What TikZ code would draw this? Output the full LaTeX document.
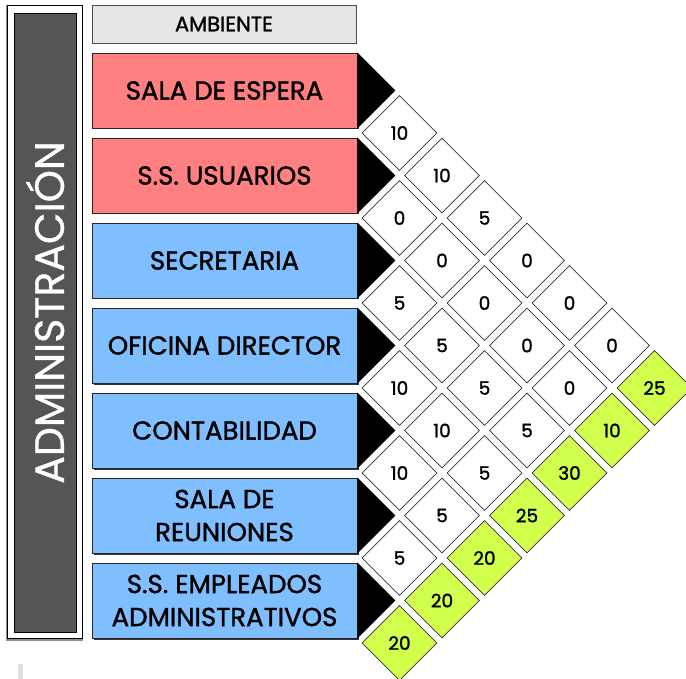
\documentclass[tikz,border=0pt]{standalone}
\usepackage{fontspec}
\setmainfont{Poppins}[FakeBold=1.4]
\newfontfamily\bigfont{Poppins}[FakeBold=0.8]
\usetikzlibrary{shapes.geometric}
\definecolor{pinkbox}{RGB}{255,128,128}
\definecolor{bluebox}{RGB}{128,191,255}
\definecolor{greencell}{RGB}{210,255,77}
\definecolor{darkbar}{RGB}{85,85,85}
\definecolor{headgray}{RGB}{230,230,230}
\tikzset{
  room/.style={draw=black!85, line width=0.8pt, minimum width=265pt, minimum height=75pt,
    inner sep=0pt, align=center, font=\fontsize{26}{33}\selectfont},
  shadowbox/.style={fill=black!80},
  cell/.style={diamond, draw=black!80, line width=0.6pt, fill=white, minimum width=75pt,
    minimum height=75pt, inner sep=0pt, font=\fontsize{18.5}{18.5}\selectfont},
  gcell/.style={cell, fill=greencell},
  wedge/.style={fill=black}
}
\begin{document}
\begin{tikzpicture}[x=1pt,y=-1pt]
\useasboundingbox (0,0) rectangle (686,679);
% left frame
\fill[black!45] (5.5,5) rectangle (83,640.5);
\node[draw=black, line width=0.8pt, fill=white, minimum width=75pt, minimum height=633pt, inner sep=0pt] (frame) at (45,322) {};
\node[draw=black, line width=0.8pt, fill=darkbar, minimum width=62pt, minimum height=619pt, inner sep=0pt] (bar) at (45,322.5) {};
\node[rotate=90, text=white, font=\bigfont\fontsize{41}{41}\selectfont] (admin) at ([yshift=10pt]bar.center) {ADMINISTRACIÓN};
\node[fill=black!13, minimum width=5pt, minimum height=15pt, inner sep=0pt] (mark) at (20,671.5) {};
% header
\node[draw=black!70, line width=0.6pt, fill=headgray, minimum width=264pt, minimum height=38pt, inner sep=0pt,
  font=\fontsize{21}{21}\selectfont] (amb) at (224,24) {AMBIENTE};
% rooms
\foreach \k/\c/\t in {0/pinkbox/{SALA DE ESPERA},1/pinkbox/{S.S. USUARIOS},2/bluebox/{SECRETARIA},
  3/bluebox/{OFICINA DIRECTOR},4/bluebox/{CONTABILIDAD},5/bluebox/{SALA DE\\REUNIONES},
  6/bluebox/{S.S. EMPLEADOS\\ADMINISTRATIVOS}}{
  \fill[shadowbox] (92+1.5,53+85*\k+1.5) rectangle (357+1.5,128+85*\k+1.5);
  \node[room, fill=\c] (r\k) at (224.5,90.5+85*\k) {\t};
  \fill[wedge] (r\k.north east) -- (r\k.south east) -- ([xshift=38pt]r\k.east) -- cycle;
}
% relationship cells: i/j/value  (x = 357+42.5(j-i), y = 90.5+42.5(i+j))
\foreach \i/\j/\v in {0/1/10,0/2/10,1/2/0,0/3/5,1/3/0,0/4/0,2/3/5,1/4/0,0/5/0,
  2/4/5,1/5/0,0/6/0,3/4/10,2/5/5,1/6/0,3/5/10,2/6/5,4/5/10,3/6/5,4/6/5,5/6/5}{
  \node[cell] (c\i\j) at ({357+42.5*(\j-\i)},{90.5+42.5*(\i+\j)}) {\v};
}
\foreach \i/\v in {0/25,1/10,2/30,3/25,4/20,5/20,6/20}{
  \node[gcell] (g\i) at ({357+42.5*(7-\i)},{90.5+42.5*(\i+7)}) {\v};
}
\end{tikzpicture}
\end{document}
